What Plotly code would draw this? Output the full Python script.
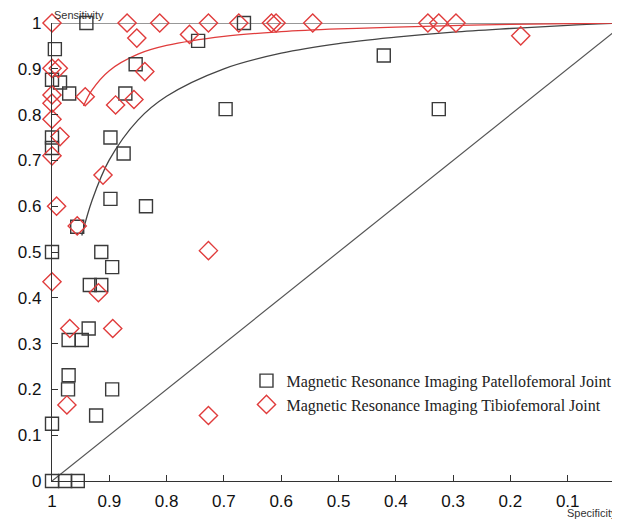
import plotly.graph_objects as go

# Patellofemoral joint (black squares): specificity, sensitivity
pf_spec = [0.94, 0.665, 0.995, 1.0, 0.986, 0.97, 0.854, 0.872, 0.745, 0.697, 0.421, 0.325,
           0.898, 0.875, 1.0, 1.0, 0.898, 0.836, 0.956, 1.0, 0.914, 0.895, 0.934, 0.914,
           0.936, 0.971, 0.948, 0.971, 0.972, 0.895, 0.923, 1.0, 1.0, 0.977, 0.955]
pf_sens = [1.0, 1.0, 0.943, 0.876, 0.87, 0.846, 0.91, 0.846, 0.961, 0.812, 0.929, 0.812,
           0.75, 0.715, 0.75, 0.727, 0.616, 0.6, 0.555, 0.5, 0.5, 0.467, 0.428, 0.428,
           0.333, 0.308, 0.308, 0.231, 0.2, 0.2, 0.143, 0.125, 0.0, 0.0, 0.0]

# Tibiofemoral joint (red diamonds)
tf_spec = [1.0, 0.869, 0.812, 0.727, 0.674, 0.617, 0.609, 0.545, 0.344, 0.325, 0.295,
           0.182, 0.852, 0.76, 1.0, 0.989, 0.838, 0.942, 1.0, 1.0, 0.889, 0.857, 1.0,
           0.986, 1.0, 0.911, 0.992, 0.956, 0.727, 1.0, 0.919, 0.969, 0.894, 0.974, 0.727]
tf_sens = [1.0, 1.0, 1.0, 1.0, 1.0, 1.0, 1.0, 1.0, 1.0, 1.0, 1.0,
           0.972, 0.967, 0.975, 0.901, 0.901, 0.894, 0.839, 0.843, 0.825, 0.821, 0.833, 0.79,
           0.752, 0.71, 0.668, 0.6, 0.557, 0.503, 0.435, 0.411, 0.333, 0.333, 0.166, 0.143]

# SROC curves
pf_curve_spec = [0.948, 0.93, 0.9, 0.85, 0.8, 0.7, 0.6, 0.5, 0.4, 0.3, 0.2, 0.1, 0.0]
pf_curve_sens = [0.536, 0.613, 0.701, 0.788, 0.840, 0.900, 0.934, 0.955, 0.969, 0.980, 0.988, 0.995, 1.0]
tf_curve_spec = [0.945, 0.93, 0.9, 0.85, 0.8, 0.7, 0.6, 0.5, 0.4, 0.2, 0.0]
tf_curve_sens = [0.819, 0.854, 0.896, 0.932, 0.951, 0.971, 0.981, 0.987, 0.991, 0.997, 1.0]

x_ticks = [1, 0.9, 0.8, 0.7, 0.6, 0.5, 0.4, 0.3, 0.2, 0.1, 0]
x_tick_text = ["1", "0.9", "0.8", "0.7", "0.6", "0.5", "0.4", "0.3", "0.2", "0.1", "0"]
y_ticks = [0, 0.1, 0.2, 0.3, 0.4, 0.5, 0.6, 0.7, 0.8, 0.9, 1]
y_tick_text = ["0", "0.1", "0.2", "0.3", "0.4", "0.5", "0.6", "0.7", "0.8", "0.9", "1"]

BLACK = "#3a3a3a"
RED = "#e03c3c"

fig = go.Figure()

# diagonal and top line
fig.add_trace(go.Scatter(x=[1, 0], y=[0, 1], mode="lines", line=dict(color="#555555", width=1.2),
                         showlegend=False, hoverinfo="skip"))
fig.add_trace(go.Scatter(x=[1, 0], y=[1, 1], mode="lines", line=dict(color="#333333", width=1.2),
                         showlegend=False, hoverinfo="skip"))

fig.add_trace(go.Scatter(x=pf_curve_spec, y=pf_curve_sens, mode="lines", line_shape="spline",
                         line=dict(color="#444444", width=1.3), showlegend=False, hoverinfo="skip"))
fig.add_trace(go.Scatter(x=tf_curve_spec, y=tf_curve_sens, mode="lines", line_shape="spline",
                         line=dict(color=RED, width=1.3), showlegend=False, hoverinfo="skip"))

fig.add_trace(go.Scatter(x=pf_spec, y=pf_sens, mode="markers", cliponaxis=False,
                         name="Magnetic Resonance Imaging Patellofemoral Joint", legendgroup="a",
                         marker=dict(symbol="square-open", size=13, color=BLACK, line=dict(width=1.4, color=BLACK))))
fig.add_trace(go.Scatter(x=tf_spec, y=tf_sens, mode="markers", cliponaxis=False,
                         name="Magnetic Resonance Imaging Tibiofemoral Joint", legendgroup="b",
                         marker=dict(symbol="diamond-open", size=14, color=RED, line=dict(width=1.4, color=RED))))

fig.update_layout(
    width=612, height=512,
    margin=dict(l=44, r=1, t=15, b=39),
    plot_bgcolor="white", paper_bgcolor="white",
    showlegend=True,
    legend=dict(x=0.343, y=0.256, xanchor="left", yanchor="top", bgcolor="rgba(0,0,0,0)",
                font=dict(family="Liberation Serif", size=16, color="#222222"),
                traceorder="grouped", tracegroupgap=0),
    xaxis=dict(range=[1, 0.0105], tickvals=x_ticks, ticktext=x_tick_text, showgrid=False, zeroline=False,
               showline=True, linecolor="#333333", linewidth=1.2, ticks="inside", ticklen=6,
               tickcolor="#333333", tickfont=dict(family="Liberation Sans", size=17, color="#111111"),
               ticklabelstandoff=4),
    yaxis=dict(range=[0, 1], tickvals=y_ticks, ticktext=y_tick_text, showgrid=False, zeroline=False,
               showline=True, linecolor="#333333", linewidth=1.2, ticks="inside", ticklen=6,
               tickcolor="#333333", tickfont=dict(family="Liberation Sans", size=17, color="#111111"),
               ticklabelstandoff=6),
    annotations=[
        dict(text="Sensitivity", xref="paper", yref="paper", x=0.0, y=1.0, xanchor="left", yanchor="middle",
             yshift=8, showarrow=False, font=dict(family="Liberation Sans", size=11, color="#333333")),
        dict(text="Specificity", xref="paper", yref="paper", x=0.905, y=0, xanchor="left", yanchor="middle",
             yshift=-32, showarrow=False, font=dict(family="Liberation Sans", size=11, color="#333333")),
    ],
)

fig.write_html("out.html")
